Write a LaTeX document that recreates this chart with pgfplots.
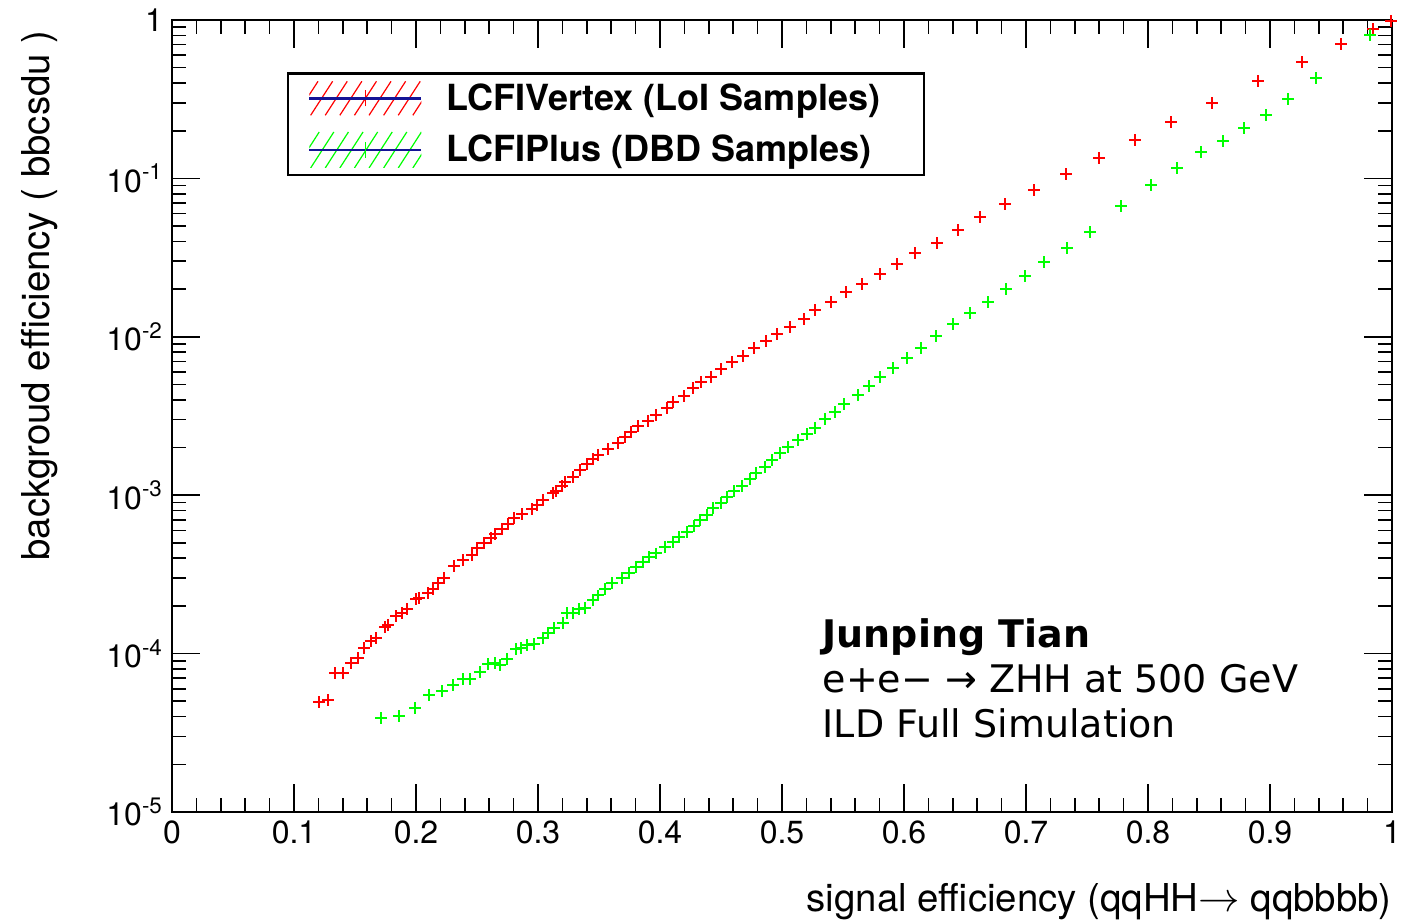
\documentclass[border=0pt]{standalone}
\usepackage{fontspec}
\setmainfont{TeX Gyre Heros}
\newfontfamily\dejavu{DejaVu Sans}
\usepackage{pgfplots}
\pgfplotsset{compat=1.18}
\definecolor{lineblue}{RGB}{20,20,150}
\definecolor{rootred}{RGB}{255,0,0}
\definecolor{rootgreen}{RGB}{0,255,0}
\begin{document}
\begin{tikzpicture}
\begin{axis}[name=ax, scale only axis, width=610pt, height=396pt,
  xmin=0, xmax=1, ymode=log, ymin=1e-5, ymax=1,
  xtick={0,0.1,0.2,0.3,0.4,0.5,0.6,0.7,0.8,0.9,1},
  xticklabels={0,0.1,0.2,0.3,0.4,0.5,0.6,0.7,0.8,0.9,1},
  minor x tick num=4,
  ytick={1e-5,1e-4,1e-3,1e-2,1e-1,1},
  yticklabels={10\textsuperscript{-5},10\textsuperscript{-4},10\textsuperscript{-3},10\textsuperscript{-2},10\textsuperscript{-1},1},
  minor ytick={2e-5,3e-5,4e-5,5e-5,6e-5,7e-5,8e-5,9e-5,
               2e-4,3e-4,4e-4,5e-4,6e-4,7e-4,8e-4,9e-4,
               2e-3,3e-3,4e-3,5e-3,6e-3,7e-3,8e-3,9e-3,
               2e-2,3e-2,4e-2,5e-2,6e-2,7e-2,8e-2,9e-2,
               0.2,0.3,0.4,0.5,0.6,0.7,0.8,0.9},
  tick align=inside, major tick length=14pt, minor tick length=7pt,
  axis line style={line width=1pt},
  every tick/.style={black, line width=0.8pt},
  tick label style={font=\fontsize{16}{19}\selectfont},
  xticklabel style={yshift=-1pt},
  yticklabel style={xshift=-1pt},
  clip=false,
  legend style={at={(rel axis cs:0.0943,0.934)}, anchor=north west, draw=black, line width=1.2pt,
    fill=white, font=\bfseries\fontsize{18}{21}\selectfont, inner xsep=10pt, inner ysep=3pt,
    row sep=7pt, column sep=10pt},
  legend cell align=left,
]
\addplot[only marks, mark=+, mark size=2.8pt, rootred, mark options={line width=0.8pt},
  legend image code/.code={
    \begin{scope}
    \path[clip, draw=none, fill=none] (0pt,-8.5pt) rectangle (56pt,8.5pt);
    \foreach \s in {-14,-6.7,...,56} {\draw[rootred,line width=0.6pt] (\s pt,-8.5pt) -- ++(11pt,17pt);}
    \end{scope}
    \draw[rootred,line width=0.9pt] (28pt,-4pt)--(28pt,4pt);
    \draw[lineblue,line width=1.2pt] (0pt,0pt)--(56pt,0pt);
  }] coordinates {
(0.1205,4.95e-5) (0.1279,5.09e-5) (0.1336,7.54e-5) (0.1402,7.54e-5) (0.1467,8.72e-5)
(0.1525,9.38e-5) (0.1574,1.085e-4) (0.1631,1.201e-4) (0.1672,1.255e-4) (0.1746,1.472e-4)
(0.1770,1.516e-4) (0.1836,1.727e-4) (0.1885,1.804e-4) (0.1926,1.912e-4) (0.2000,2.212e-4)
(0.2025,2.244e-4) (0.2098,2.413e-4) (0.2139,2.557e-4) (0.2180,2.79e-4) (0.2230,3.0e-4)
(0.2311,3.57e-4) (0.2385,3.90e-4) (0.2459,4.19e-4) (0.2500,4.64e-4) (0.2557,4.99e-4)
(0.2615,5.37e-4) (0.2648,5.69e-4) (0.2705,6.12e-4) (0.2754,6.58e-4) (0.2803,7.18e-4)
(0.2869,7.61e-4) (0.2951,8.18e-4) (0.2992,8.67e-4) (0.3041,9.33e-4) (0.3123,1.032e-3)
(0.3148,1.063e-3) (0.3197,1.143e-3) (0.3221,1.211e-3) (0.3287,1.302e-3) (0.3344,1.442e-3)
(0.3402,1.574e-3) (0.3451,1.693e-3) (0.3492,1.794e-3) (0.3574,1.957e-3) (0.3656,2.136e-3)
(0.3713,2.33e-3) (0.3762,2.506e-3) (0.3820,2.735e-3) (0.3902,2.94e-3) (0.3967,3.21e-3)
(0.4057,3.55e-3) (0.4107,3.88e-3) (0.4197,4.23e-3) (0.4270,4.75e-3) (0.4336,5.18e-3)
(0.4418,5.57e-3) (0.4500,6.26e-3) (0.4590,6.93e-3) (0.4680,7.56e-3) (0.4770,8.50e-3)
(0.4869,9.41e-3) (0.4959,1.042e-2) (0.5066,1.153e-2) (0.5180,1.296e-2) (0.5270,1.476e-2)
(0.5402,1.658e-2) (0.5525,1.918e-2) (0.5656,2.154e-2) (0.5803,2.49e-2) (0.5943,2.88e-2)
(0.6090,3.38e-2) (0.6270,3.91e-2) (0.6443,4.72e-2) (0.6623,5.71e-2) (0.6828,6.89e-2)
(0.7066,8.45e-2) (0.7328,0.1066) (0.7598,0.1345) (0.7893,0.1748) (0.8189,0.2270)
(0.8525,0.2992) (0.8902,0.4120) (0.9262,0.5431) (0.9582,0.7055) (0.9844,0.877)
(0.9992,0.986)
};
\addlegendentry{LCFIVertex (LoI Samples)\hspace*{10pt}}
\addplot[only marks, mark=+, mark size=2.8pt, rootgreen, mark options={line width=0.8pt},
  legend image code/.code={
    \begin{scope}
    \path[clip, draw=none, fill=none] (0pt,-9pt) rectangle (56pt,9pt);
    \foreach \s in {-14,-6.7,...,56} {\draw[rootgreen,line width=0.6pt] (\s pt,-9pt) -- ++(11.6pt,18pt);}
    \end{scope}
    \draw[lineblue,line width=1.2pt] (0pt,0pt)--(56pt,0pt);
    \draw[rootgreen,line width=0.9pt] (28pt,-4pt)--(28pt,4pt);
  }] coordinates {
(0.1713,3.92e-5) (0.1861,4.04e-5) (0.1992,4.54e-5) (0.2107,5.48e-5) (0.2213,5.81e-5)
(0.2303,6.33e-5) (0.2385,6.91e-5) (0.2443,6.91e-5) (0.2525,7.66e-5) (0.2590,8.60e-5)
(0.2648,8.72e-5) (0.2689,8.47e-5) (0.2746,9.24e-5) (0.2820,1.069e-4) (0.2861,1.085e-4)
(0.2910,1.133e-4) (0.2967,1.150e-4) (0.3041,1.255e-4) (0.3082,1.349e-4) (0.3131,1.451e-4)
(0.3205,1.560e-4) (0.3238,1.804e-4) (0.3287,1.804e-4) (0.3336,1.912e-4) (0.3385,1.940e-4)
(0.3451,2.18e-4) (0.3492,2.34e-4) (0.3549,2.557e-4) (0.3607,2.79e-4) (0.3689,3.00e-4)
(0.3746,3.23e-4) (0.3803,3.52e-4) (0.3861,3.79e-4) (0.3910,4.07e-4) (0.3967,4.31e-4)
(0.4041,4.71e-4) (0.4107,5.06e-4) (0.4156,5.45e-4) (0.4221,5.86e-4) (0.4279,6.39e-4)
(0.4328,6.97e-4) (0.4385,7.50e-4) (0.4434,8.30e-4) (0.4500,8.93e-4) (0.4549,9.74e-4)
(0.4607,1.063e-3) (0.4672,1.143e-3) (0.4738,1.266e-3) (0.4787,1.381e-3) (0.4861,1.507e-3)
(0.4918,1.668e-3) (0.4984,1.846e-3) (0.5049,2.015e-3) (0.5131,2.232e-3) (0.5205,2.434e-3)
(0.5270,2.656e-3) (0.5352,3.03e-3) (0.5434,3.35e-3) (0.5508,3.77e-3) (0.5623,4.29e-3)
(0.5713,4.89e-3) (0.5803,5.57e-3) (0.5910,6.35e-3) (0.6025,7.35e-3) (0.6139,8.50e-3)
(0.6262,1.012e-2) (0.6402,1.204e-2) (0.6541,1.414e-2) (0.6689,1.658e-2) (0.6836,2.003e-2)
(0.6992,2.42e-2) (0.7148,2.97e-2) (0.7336,3.64e-2) (0.7525,4.59e-2) (0.7779,6.69e-2)
(0.8025,9.08e-2) (0.8238,0.1163) (0.8434,0.1468) (0.8615,0.1722) (0.8787,0.2081)
(0.8967,0.2514) (0.9148,0.3171) (0.9377,0.4304) (0.9820,0.804)
};
\addlegendentry{LCFIPlus (DBD Samples)\hspace*{10pt}}
\node[inner sep=0pt, anchor=base west, font=\dejavu\bfseries\fontsize{19}{22}\selectfont] at (rel axis cs:0.533,0.2071) {Junping Tian};
\node[inner sep=0pt, anchor=base west, font=\dejavu\fontsize{19}{22}\selectfont] at (rel axis cs:0.533,0.1515) {e+e− → ZHH at 500 GeV};
\node[inner sep=0pt, anchor=base west, font=\dejavu\fontsize{19}{22}\selectfont] at (rel axis cs:0.533,0.0947) {ILD Full Simulation};
\node[inner sep=0pt, anchor=base east, yshift=-49.5pt, font=\fontsize{19.2}{22}\selectfont] at (rel axis cs:1,0) {signal efficiency (qqHH$\rightarrow$ qqbbbb)};
\node[inner sep=0pt, xshift=-61pt, yshift=-5pt, rotate=90, anchor=base east, font=\fontsize{19.2}{22}\selectfont] at (rel axis cs:0,1) {backgroud efficiency ( bbcsdu )};
\end{axis}
\pgfresetboundingbox
\useasboundingbox ([xshift=-86pt,yshift=10pt]ax.north west) rectangle ([xshift=5pt,yshift=-55.5pt]ax.south east);
\end{tikzpicture}
\end{document}
